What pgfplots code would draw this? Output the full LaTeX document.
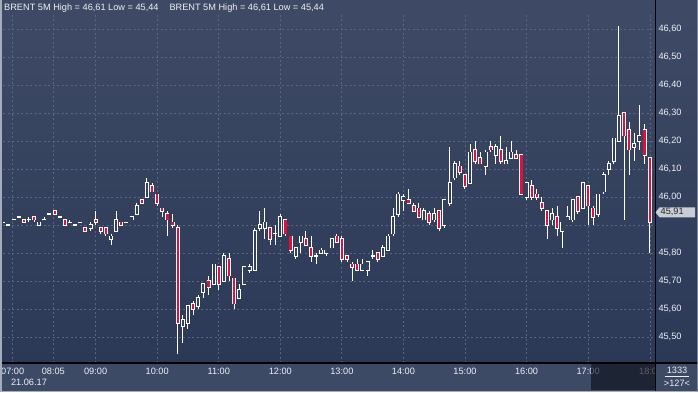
\documentclass[border=0pt]{standalone}
\usepackage{fontspec}
\setmainfont{Liberation Sans}
\usepackage{pgfplots}
\usepackage{pgfplotstable}
\pgfplotsset{compat=1.18}
\definecolor{bgtop}{RGB}{62,74,101}
\definecolor{bgbot}{RGB}{43,57,87}
\definecolor{panel}{RGB}{61,74,102}
\definecolor{gridc}{RGB}{88,102,132}
\definecolor{cred}{RGB}{226,16,56}
\definecolor{hollow}{RGB}{52,65,94}
\definecolor{txt}{RGB}{236,239,244}
\definecolor{bordc}{RGB}{165,172,186}
\pgfplotstableread{
i O H L C
0 45.91 45.91 45.91 45.91
1 45.90 45.90 45.90 45.90
2 45.92 45.92 45.92 45.92
3 45.93 45.93 45.93 45.93
4 45.92 45.92 45.91 45.91
5 45.92 45.93 45.91 45.92
6 45.93 45.93 45.91 45.92
7 45.90 45.91 45.90 45.91
8 45.92 45.93 45.92 45.92
9 45.94 45.94 45.94 45.94
10 45.95 45.95 45.94 45.94
11 45.93 45.93 45.93 45.93
12 45.92 45.92 45.90 45.90
13 45.91 45.92 45.91 45.91
14 45.90 45.90 45.90 45.90
15 45.91 45.91 45.91 45.91
16 45.89 45.89 45.88 45.88
17 45.89 45.91 45.88 45.90
18 45.92 45.95 45.90 45.91
19 45.89 45.89 45.87 45.88
20 45.89 45.89 45.86 45.87
21 45.85 45.87 45.83 45.86
22 45.88 45.95 45.88 45.92
23 45.91 45.91 45.90 45.90
24 45.91 45.91 45.91 45.91
25 45.92 45.93 45.92 45.93
26 45.94 45.98 45.94 45.97
27 45.99 45.99 45.98 45.98
28 46.00 46.07 46.00 46.05
29 46.04 46.05 46.02 46.02
30 46.01 46.01 45.97 45.98
31 45.96 45.96 45.93 45.95
32 45.94 45.95 45.86 45.92
33 45.91 45.94 45.89 45.90
34 45.89 45.90 45.44 45.55
35 45.54 45.58 45.48 45.56
36 45.55 45.61 45.53 45.61
37 45.62 45.63 45.58 45.60
38 45.61 45.65 45.60 45.64
39 45.66 45.69 45.64 45.69
40 45.70 45.72 45.65 45.68
41 45.69 45.76 45.69 45.76
42 45.75 45.75 45.67 45.69
43 45.70 45.80 45.70 45.79
44 45.78 45.80 45.70 45.72
45 45.71 45.71 45.60 45.62
46 45.64 45.69 45.64 45.67
47 45.69 45.75 45.69 45.75
48 45.74 45.76 45.73 45.75
49 45.74 45.89 45.74 45.88
50 45.89 45.95 45.88 45.90
51 45.89 45.96 45.85 45.91
52 45.89 45.89 45.83 45.85
53 45.87 45.90 45.83 45.87
54 45.86 45.94 45.86 45.93
55 45.92 45.92 45.86 45.87
56 45.86 45.86 45.80 45.81
57 45.79 45.82 45.78 45.82
58 45.84 45.86 45.80 45.86
59 45.85 45.88 45.83 45.83
60 45.82 45.86 45.77 45.79
61 45.79 45.80 45.76 45.79
62 45.80 45.82 45.80 45.81
63 45.80 45.81 45.79 45.81
64 45.82 45.85 45.82 45.85
65 45.86 45.87 45.84 45.84
66 45.85 45.86 45.77 45.78
67 45.79 45.79 45.77 45.78
68 45.76 45.77 45.70 45.75
69 45.76 45.78 45.74 45.74
70 45.74 45.78 45.74 45.76
71 45.74 45.77 45.72 45.77
72 45.79 45.81 45.78 45.79
73 45.80 45.80 45.77 45.78
74 45.79 45.83 45.79 45.82
75 45.81 45.87 45.81 45.86
76 45.87 45.96 45.86 45.93
77 45.94 46.02 45.93 46.01
78 45.99 46.01 45.95 46.00
79 45.99 46.03 45.98 45.98
80 45.97 45.98 45.95 45.95
81 45.96 45.98 45.93 45.93
82 45.92 45.96 45.92 45.95
83 45.94 45.95 45.90 45.91
84 45.92 45.96 45.91 45.94
85 45.95 45.95 45.88 45.89
86 45.90 45.99 45.89 45.99
87 45.98 46.18 45.97 46.05
88 46.07 46.13 46.06 46.12
89 46.11 46.13 46.08 46.09
90 46.08 46.08 46.03 46.04
91 46.05 46.19 46.05 46.16
92 46.17 46.20 46.12 46.13
93 46.14 46.16 46.12 46.12
94 46.11 46.17 46.08 46.16
95 46.18 46.20 46.16 46.17
96 46.15 46.19 46.12 46.18
97 46.17 46.22 46.12 46.13
98 46.12 46.18 46.12 46.13
99 46.14 46.20 46.14 46.16
100 46.15 46.17 46.14 46.14
101 46.15 46.15 46.01 46.01
102 46.00 46.05 45.99 46.05
103 46.04 46.06 45.99 46.00
104 46.01 46.03 45.99 46.00
105 45.98 46.00 45.95 45.96
106 45.95 45.95 45.85 45.90
107 45.92 45.96 45.90 45.94
108 45.93 45.97 45.86 45.89
109 45.88 45.91 45.82 45.91
110 45.92 45.97 45.92 45.93
111 45.92 45.99 45.91 45.99
112 46.00 46.00 45.94 45.95
113 45.96 46.05 45.96 46.05
114 46.04 46.04 45.90 45.97
115 45.96 45.97 45.90 45.93
116 45.94 46.01 45.93 46.01
117 46.02 46.09 46.01 46.08
118 46.10 46.13 46.08 46.12
119 46.13 46.21 46.12 46.21
120 46.20 46.61 46.20 46.29
121 46.30 46.30 45.92 46.22
122 46.24 46.27 46.08 46.17
123 46.18 46.23 46.13 46.19
124 46.20 46.33 46.17 46.22
125 46.24 46.26 46.12 46.15
126 46.14 46.14 45.80 45.91
}\candles
\begin{document}
\begin{tikzpicture}[x=1pt,y=1pt,font=\fontsize{9.2}{11}\selectfont]
\useasboundingbox (0,0) rectangle (698,392);
\fill[panel] (0,0) rectangle (698,392);
\shade[top color=bgtop, bottom color=bgbot] (0,29) rectangle (698,378);
\fill[bgtop] (0,378) rectangle (698,392);
\begin{axis}[
  at={(3pt,29pt)}, anchor=south west,
  width=652pt, height=349pt, scale only axis,
  xmin=-0.06, xmax=127.04, ymin=45.4075, ymax=46.6546,
  axis line style={draw=none},
  major tick length=0pt,
  grid=major,
  major grid style={gridc, line width=0.8pt, dash pattern=on 2pt off 2.5pt},
  xtick={1.83,9.75,18,30,42,54,66,78,90,102,114,126.2},
  xticklabels={07:00,08:05,09:00,10:00,11:00,12:00,13:00,14:00,15:00,16:00,17:00,18:00},
  ytick={45.5,45.6,45.7,45.8,45.9,46.0,46.1,46.2,46.3,46.4,46.5,46.6},
  yticklabels={{45,50},{45,60},{45,70},{45,80},{},{46,00},{46,10},{46,20},{46,30},{46,40},{46,50},{46,60}},
  yticklabel pos=right,
  tick label style={font=\fontsize{9.2}{11}\selectfont, text=txt},
  yticklabel style={anchor=west, inner sep=0pt, xshift=3.3pt},
  xticklabel style={anchor=center, inner sep=0pt, yshift=-8.7pt},
  every axis plot/.append style={draw=none, mark=none},
]
% wicks
\addplot[draw=none, mark=none,
  error bars/.cd, y dir=plus, y explicit, error mark=none,
  error bar style={draw=white, line width=1pt}]
  table[x=i, y=L, y error plus expr={\thisrow{H}-\thisrow{L}}] {\candles};
% body outlines
\addplot[draw=none, mark=none,
  error bars/.cd, y dir=plus, y explicit, error mark=none,
  error bar style={draw=white, line width=4pt}]
  table[x=i, y expr={min(\thisrow{O},\thisrow{C})-0.003},
        y error plus expr={abs(\thisrow{O}-\thisrow{C})+0.006}] {\candles};
% bearish bodies
\addplot[draw=none, mark=none,
  restrict expr to domain={\thisrow{C}-\thisrow{O}}{-10:-0.001},
  error bars/.cd, y dir=plus, y explicit, error mark=none,
  error bar style={draw=cred, line width=2.2pt}]
  table[x=i, y=C, y error plus expr={\thisrow{O}-\thisrow{C}}] {\candles};
% bullish bodies
\addplot[draw=none, mark=none,
  restrict expr to domain={\thisrow{C}-\thisrow{O}}{0.001:10},
  error bars/.cd, y dir=plus, y explicit, error mark=none,
  error bar style={draw=hollow, line width=2.2pt}]
  table[x=i, y=O, y error plus expr={\thisrow{C}-\thisrow{O}}] {\candles};
\end{axis}
% header
\node[anchor=west, text=txt, inner sep=0pt] at (4,384) {BRENT 5M High = 46,61 Low = 45,44};
\node[anchor=west, text=txt, inner sep=0pt] at (169.3,384) {BRENT 5M High = 46,61 Low = 45,44};
% date
\node[anchor=center, text=txt, inner sep=0pt] at (29,9.3) {21.06.17};
% scroll box
\fill[fill=black!70!bgbot, opacity=0.65] (591,2) rectangle (655,28);
% bottom right cell
\fill[panel] (655,0) rectangle (698,29);
\node[anchor=center, text=txt, inner sep=0pt] at (677,21.3) {1333};
\draw[txt, line width=0.6pt] (665,15.3) -- (689,15.3);
\node[anchor=center, text=txt, inner sep=0pt] at (677,8.7) {>127<};
% frame lines
\draw[black, line width=1.2pt] (655.5,0) -- (655.5,392);
\draw[black, line width=1.2pt] (0,29) -- (698,29);
% price marker
\fill[fill={rgb,255:red,201;green,205;blue,212}] (655.5,179.7) -- (659.5,184.7) -- (695,184.7) -- (695,174.7) -- (659.5,174.7) -- cycle;
\node[anchor=west, text=black!85, inner sep=0pt] at (660.5,179.7) {45,91};
% border
\draw[bordc, line width=1.5pt] (0.75,0) -- (0.75,392);
\draw[bordc, line width=1.5pt] (0,0.75) -- (698,0.75);
\draw[bordc!60!panel, line width=1pt] (697.5,0) -- (697.5,392);
\end{tikzpicture}
\end{document}
